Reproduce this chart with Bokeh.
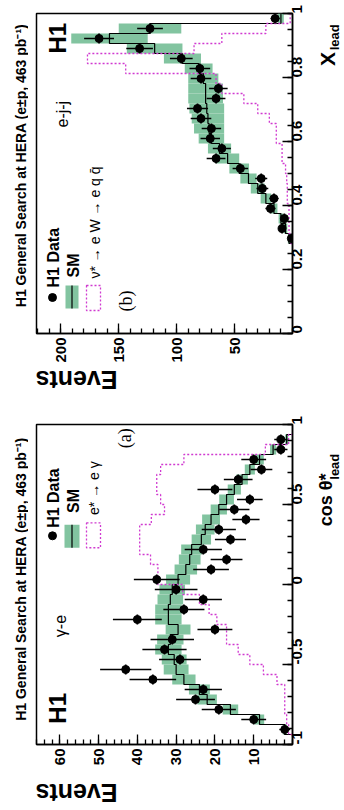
import numpy as np
from math import pi
from bokeh.plotting import figure
from bokeh.layouts import column, row
from bokeh.models import Range1d, FixedTicker, Label
from bokeh.embed import file_html
from bokeh.resources import INLINE

# ---------------- Panel (b): e-j-j, X_lead ----------------
b_xlead = [0.2969, 0.3281, 0.3594, 0.3906, 0.4219, 0.4531, 0.4844, 0.5156, 0.5469, 0.5781,
           0.6094, 0.6406, 0.6719, 0.7031, 0.7344, 0.7656, 0.7969, 0.8281, 0.8594, 0.8906,
           0.9219, 0.9531, 0.9844]
b_halfbin = 0.015625
b_data = [1, 9, 7, 19, 16, 26, 27, 45, 66, 61, 71, 70, 79, 82, 66, 64, 79, 80, 96, 132, 167, 123, 15]
b_data_err = [1.0, 3.0, 2.6, 4.4, 4.0, 5.1, 5.2, 6.7, 8.1, 7.8, 8.4, 8.4, 8.9, 9.1, 8.1, 8.0,
              8.9, 8.9, 9.8, 11.5, 12.9, 11.1, 3.9]
b_sm = [3, 6, 10, 16, 23, 30, 38, 46, 56, 63, 70, 72, 73, 74, 75, 75, 77, 81, 95, 119, 158, 123, 10]
b_sm_err = [1, 1.5, 2, 3, 4.5, 6, 7, 8.5, 10, 10, 11, 13, 14, 15, 15, 15, 13, 12, 16, 24, 33, 27, 2.5]
b_sig = [1.5, 3, 3, 3, 4.5, 4.5, 5, 6, 9, 9, 14, 14, 20, 30, 42, 61, 66, 144, 177, 85, 61, 23, 2]
b_event_ticks = [50, 100, 150, 200]
b_var_ticks = [0, 0.2, 0.4, 0.6, 0.8, 1]
b_var_labels = ["0", "0.2", "0.4", "0.6", "0.8", "1"]

# ---------------- Panel (a): gamma-e, cos theta*_lead ----------------
a_cos = [-0.9062, -0.8438, -0.7812, -0.7188, -0.6562, -0.5938, -0.5312, -0.4688, -0.4062, -0.3438,
         -0.2812, -0.2188, -0.1562, -0.0938, -0.0312, 0.0312, 0.0938, 0.1562, 0.2188, 0.2812,
         0.3438, 0.4062, 0.4688, 0.5312, 0.5938, 0.6562, 0.7188, 0.7812, 0.8438, 0.9062]
a_halfbin = 0.03125
a_data = [2, 10, 19, 25, 23, 36, 43, 29, 33, 31, 20, 40, 28, 23, 30, 35, 21, 17, 23, 16,
          19, 12, 15, 11, 20, 14, 8, 10, 3, 3]
a_data_err = [1.4, 3.2, 4.4, 5.0, 4.8, 6.0, 6.6, 5.4, 5.7, 5.6, 4.5, 6.3, 5.3, 4.8, 5.5, 5.9,
              4.6, 4.1, 4.8, 4.0, 4.4, 3.5, 3.9, 3.3, 4.5, 3.7, 2.8, 3.2, 1.7, 1.7]
a_sm = [2, 8.5, 16, 22, 24, 28, 30, 30.5, 32, 31.5, 29.5, 32, 32, 31.5, 31, 29.5, 27.5, 26.5,
        26, 23.5, 22.5, 21, 19, 17, 15, 13, 11, 8.5, 5, 1.5]
a_sm_err = [0.5, 1.2, 2, 2.5, 2.7, 3, 3.2, 3.2, 3.4, 3.4, 3.2, 3.4, 3.4, 3.3, 3.3, 3.1, 2.9,
            2.8, 2.7, 2.5, 2.4, 2.3, 2.1, 1.9, 1.7, 1.5, 1.3, 1.1, 0.8, 0.4]
a_sig = [1, 1.5, 2, 2, 2, 4, 7.5, 11, 14, 17, 17, 19.5, 21.5, 24, 28.3, 34.7, 34.7, 36.6,
         39.4, 39.4, 39.4, 36.4, 33, 34, 35, 35, 34, 28, 7, 1]
a_event_ticks = [10, 20, 30, 40, 50, 60]
a_var_ticks = [-1, -0.5, 0, 0.5, 1]
a_var_labels = ["-1", "-0.5", "0", "0.5", "1"]

TITLE = "H1 General Search at HERA (e\u00b1p, 463 pb\u207b\u00b9)"
GREEN = "#82c4a0"
MAGENTA = "#d03ad0"
SANS = "Liberation Sans"
SERIF = "Liberation Serif"

W_TITLE = 28      # strip left of the frame holding the vertical title
W_MAIN = 285      # main figure (8 px border + 256 px frame + 21 px tick labels)
W_RIGHT = 31      # strip right of the tick labels holding the axis name
X_RIGHT = W_TITLE + W_MAIN   # page x where the right strip starts
H_MAIN = 365


def step_path(centres, vals, hw):
    xs, ys = [0.0], [centres[0] - hw]
    for c, v in zip(centres, vals):
        xs += [v, v]
        ys += [c - hw, c + hw]
    xs.append(0.0)
    ys.append(centres[-1] + hw)
    return xs, ys


def make_panel(b_top, b_bottom, emax, vmin, vmax, ev_ticks, ev_minor,
               var_ticks, var_labels, var_minor, centres, hw, data, derr, sm, smerr, sig):
    p = figure(width=W_MAIN, height=H_MAIN, output_backend="svg", toolbar_location=None,
               x_range=Range1d(emax, 0), y_range=Range1d(vmin, vmax),
               y_axis_location="right", min_border_left=8, min_border_right=21,
               min_border_top=b_top, min_border_bottom=b_bottom)
    p.xgrid.visible = False
    p.ygrid.visible = False
    p.outline_line_color = "black"
    p.outline_line_width = 1.5
    p.outline_line_alpha = 1.0
    p.background_fill_color = "white"
    p.border_fill_color = "white"

    xa = p.xaxis[0]
    xa.ticker = FixedTicker(ticks=ev_ticks, minor_ticks=ev_minor)
    xa.major_label_orientation = pi / 2
    ya = p.yaxis[0]
    ya.ticker = FixedTicker(ticks=var_ticks, minor_ticks=var_minor)
    ya.major_label_overrides = {t: l for t, l in zip(var_ticks, var_labels)}
    ya.major_label_orientation = pi / 2
    for ax in (xa, ya):
        ax.major_tick_in = 10
        ax.major_tick_out = 0
        ax.minor_tick_in = 5
        ax.minor_tick_out = 0
        ax.major_tick_line_width = 1.3
        ax.minor_tick_line_width = 1.3
        ax.axis_line_width = 1.5
        ax.major_label_text_font = SANS
        ax.major_label_text_font_style = "bold"
        ax.major_label_text_font_size = "15px"
        ax.major_label_text_color = "black"
        ax.major_label_standoff = 4

    c = np.array(centres)
    smv = np.array(sm)
    sme = np.array(smerr)
    p.quad(left=smv - sme, right=smv + sme, bottom=c - hw, top=c + hw,
           fill_color=GREEN, line_color=None)
    sx, sy = step_path(centres, sm, hw)
    p.line(sx, sy, line_color="black", line_width=1.2)
    gx, gy = step_path(centres, sig, hw)
    p.line(gx, gy, line_color=MAGENTA, line_width=1.3, line_dash="2 2")
    d = np.array(data, dtype=float)
    e = np.array(derr)
    p.segment(x0=d - e, x1=d + e, y0=c, y1=c, line_color="black", line_width=1.7)
    p.segment(x0=d, x1=d, y0=c - hw, y1=c + hw, line_color="black", line_width=1.7)
    p.scatter(x=d, y=c, size=8, marker="circle", fill_color="black", line_color="black")
    return p


def blank(width, height):
    f = figure(width=width, height=height, output_backend="svg", toolbar_location=None,
               x_range=Range1d(0, width), y_range=Range1d(0, height), min_border=0,
               x_axis_location=None, y_axis_location=None)
    f.outline_line_color = None
    f.background_fill_color = "white"
    f.border_fill_color = "white"
    f.xgrid.visible = False
    f.ygrid.visible = False
    return f


def text(p, x, y, t, size, bold=True, angle=pi / 2, align="left", baseline="middle", font=SANS):
    p.add_layout(Label(x=x, y=y, text=t, angle=angle, text_font=font,
                       text_font_size=f"{size}px",
                       text_font_style="bold" if bold else "normal",
                       text_align=align, text_baseline=baseline, text_color="black"))


# ================= panel (b), page y 0..365 =================
pb = make_panel(13, 32, 221, 0, 1, b_event_ticks, list(range(0, 230, 10)),
                b_var_ticks, b_var_labels, [i * 0.05 for i in range(21)],
                b_xlead, b_halfbin, b_data, b_data_err, b_sm, b_sm_err, b_sig)
# page-pixel -> data helpers (frame x 36..292, y 13..333)
bx = lambda px: 221.0 * (292.0 - px) / 256.0
by = lambda py: (333.0 - py) / 320.0

text(pb, bx(57), by(53), "H1", 24)
text(pb, bx(62), by(127), "e-j-j", 16, bold=False)
text(pb, bx(125), by(311), "(b)", 18, bold=False, font=SERIF)
pb.scatter(x=[bx(52)], y=[by(297)], size=8, marker="circle", color="black")
text(pb, bx(52.5), by(287), "H1 Data", 16)
pb.quad(left=[bx(78)], right=[bx(65)], bottom=[by(308)], top=[by(285)], fill_color=GREEN, line_color=None)
pb.line([bx(71.5), bx(71.5)], [by(308), by(285)], line_color="black", line_width=1.2)
text(pb, bx(73), by(277), "SM", 16)
pb.quad(left=[bx(100)], right=[bx(86)], bottom=[by(310)], top=[by(285)], fill_color=None,
        line_color=MAGENTA, line_width=1.3, line_dash="2 2")
text(pb, bx(94), by(278), "\u03bd* \u2192 e W \u2192 e q q\u0304", 14, bold=False)

tb = blank(W_TITLE, H_MAIN)
text(tb, 20, H_MAIN - 335, TITLE, 14)
rb = blank(W_RIGHT, H_MAIN)
text(rb, 327 - X_RIGHT, H_MAIN - 60, "X", 21)
text(rb, 333.5 - X_RIGHT, H_MAIN - 42, "lead", 13)
eb = blank(344, 38)
text(eb, 35, 38 - 14, "Events", 25, angle=pi, align="right")

# ================= panel (a), page y 403..768 =================
pa = make_panel(21, 22, 66, -1, 1, a_event_ticks, list(range(0, 68, 2)),
                a_var_ticks, a_var_labels, [-1 + i * 0.1 for i in range(21)],
                a_cos, a_halfbin, a_data, a_data_err, a_sm, a_sm_err, a_sig)
# page-pixel -> data helpers (frame x 36..292, y 424..746)
ax_ = lambda px: 66.0 * (292.0 - px) / 256.0
ay_ = lambda py: -1.0 + 2.0 * (746.0 - py) / 322.0

text(pa, ax_(57), ay_(725), "H1", 24)
text(pa, ax_(60), ay_(638), "\u03b3-e", 16, bold=False)
text(pa, ax_(124), ay_(448), "(a)", 18, bold=False, font=SERIF)
pa.scatter(x=[ax_(52)], y=[ay_(536)], size=8, marker="circle", color="black")
text(pa, ax_(52.5), ay_(528), "H1 Data", 16)
pa.quad(left=[ax_(79)], right=[ax_(64)], bottom=[ay_(548)], top=[ay_(525)], fill_color=GREEN, line_color=None)
pa.line([ax_(71.5), ax_(71.5)], [ay_(548), ay_(525)], line_color="black", line_width=1.2)
text(pa, ax_(73), ay_(513), "SM", 16)
pa.quad(left=[ax_(100)], right=[ax_(86)], bottom=[ay_(548)], top=[ay_(523)], fill_color=None,
        line_color=MAGENTA, line_width=1.3, line_dash="2 2")
text(pa, ax_(93), ay_(515), "e* \u2192 e \u03b3", 14, bold=False)

ta = blank(W_TITLE, H_MAIN)
text(ta, 20, H_MAIN - (741 - 403), TITLE, 14)
ra = blank(W_RIGHT, H_MAIN)
text(ra, 325.7 - X_RIGHT, H_MAIN - (519 - 403), "cos \u03b8*", 18)
text(ra, 333.5 - X_RIGHT, H_MAIN - (466 - 403), "lead", 13)
ea = blank(344, 42)
text(ea, 35, 42 - 24, "Events", 25, angle=pi, align="right")

layout = column(row(tb, pb, rb, spacing=0), eb, row(ta, pa, ra, spacing=0), ea, spacing=0)
open("out.html", "w").write(file_html(layout, INLINE))
